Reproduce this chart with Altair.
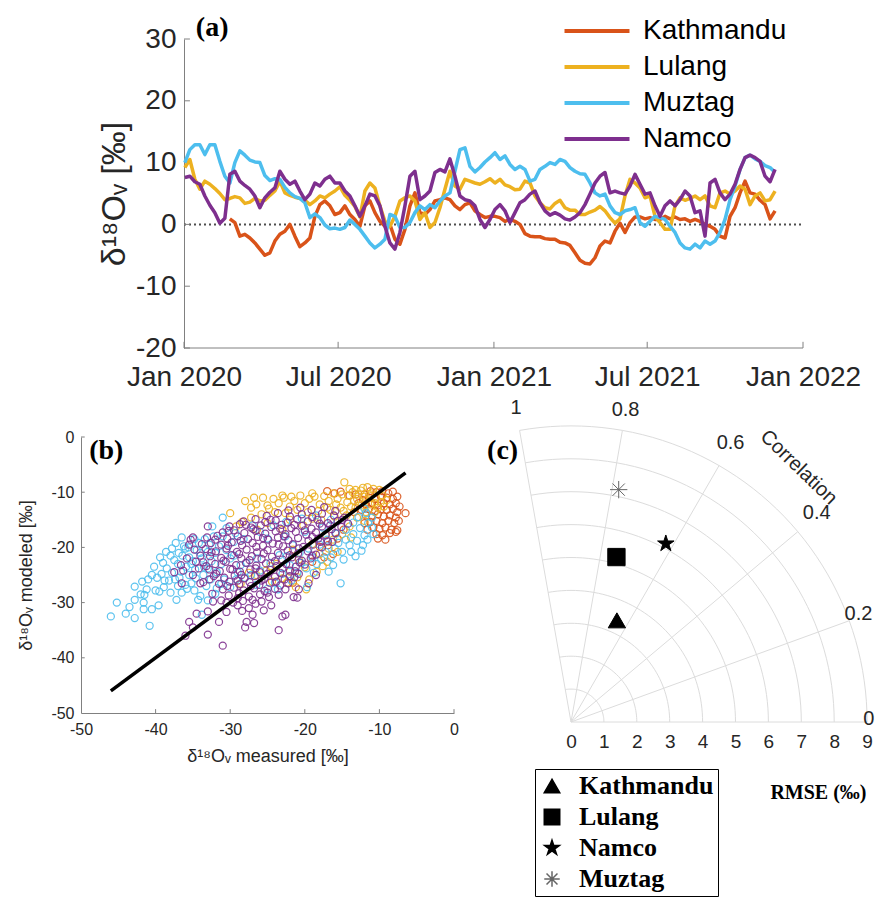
import math
import altair as alt
import pandas as pd

SANS = "Liberation Sans"
SERIF = "Liberation Serif"
TXT = "#262626"
AXC = "#808080"

SITES = ["Kathmandu", "Lulang", "Muztag", "Namco"]
COLORS = ["#D95319", "#EDB120", "#4DBEEE", "#7E2F8E"]

# ---------------- panel (a): time series (about every 6 days) ----------------
SERIES_START = "2020-01-02"
SERIES_END = "2021-11-29"
KATHMANDU_A = [None] * 9 + [
    0.9, 0.3, -1.9, -1.6, -2.2, -3.0, -4.0, -5.0, -4.6, -2.7, -1.6, -1.1, 0.0, -1.9, -3.6, -3.0, -2.2, 1.3, 3.2, 3.8, 3.0, 1.6,
    1.9, 3.0, 1.6, 0.8, -0.3, 3.0, 3.8, 1.9, 0.5, -0.3, 0.0, -2.4, -3.2, -0.8, 3.0, 5.1, 1.9, 1.6, 2.4, 3.8, 4.0, 4.3, 4.0, 3.0, 2.4, 3.2, 3.5, 2.2, 1.6, 1.1, 1.3,
    1.3, 1.1, 0.5, 0.8, 0.5, 0.0, -1.5, -1.9, -2.0, -2.0, -2.3, -2.4, -2.4, -2.9, -3.0, -3.4, -4.6, -5.8, -6.3, -6.4, -5.4, -3.5, -2.7, -3.0, -1.1, 0.2, -1.3, 0.3, 1.2, 1.2, 0.9,
    1.1, 0.8, 0.8, 1.3, 0.9, 1.2, 0.8, 0.9, 0.5, 0.8, 0.5, 0.0, -0.3, -0.8, -1.9, -2.2, 1.3, 2.7, 5.1, 7.0, 5.1, 4.9, 3.9, 3.2, 0.9, 2.2]
LULANG_A = [
    9.2, 10.5, 7.3, 5.7, 7.0, 6.5, 5.8, 5.0, 4.0, 4.2, 4.5, 4.3, 3.4, 3.6, 4.2, 3.8, 3.9, 4.7, 5.4, 7.0, 5.1, 4.7, 4.4, 4.2, 3.9, 3.2, 3.8, 4.6, 4.3, 4.9, 5.4,
    6.1, 4.7, 3.9, 2.9, 1.2, 5.4, 6.7, 5.9, 3.0, 0.5, -0.3, 1.3, 3.8, 4.3, 4.6, 3.8, 0.8, 1.9, -0.5, 0.3, 2.7, 5.7, 8.6, 6.2, 5.7, 7.3, 7.0, 6.7, 6.5, 6.9, 7.4,
    6.7, 7.3, 6.4, 6.1, 5.6, 5.7, 7.0, 6.7, 4.6, 3.5, 2.7, 2.5, 3.4, 3.9, 2.7, 2.3, 2.3, 1.6, 1.6, 2.0, 2.3, 2.9, 2.2, 1.1, 0.2, 0.9, 4.6, 7.3, 6.7, 5.9, 4.3,
    4.6, 1.3, 0.3, -0.8, -0.8, 3.0, 4.3, 3.9, 4.2, 4.6, 4.0, 4.6, 3.0, 2.7, 5.1, 5.4, 4.9, 5.4, 6.2, 5.7, 3.2, 4.6, 5.1, 3.8, 4.0, 5.4]
MUZTAG_A = [
    10.0, 12.1, 12.9, 12.9, 11.3, 12.9, 12.9, 10.2, 7.8, 6.7, 10.0, 11.9, 11.2, 10.4, 10.1, 10.0, 7.9, 7.1, 7.4, 7.3, 6.0, 5.1, 4.5, 4.2, 3.5, 1.1, 1.7, 1.1, -0.1, -0.7, -0.6,
    -0.8, -0.5, 0.7, 0.0, -0.8, -1.9, -3.0, -3.8, -3.2, -2.4, 1.6, 1.3, -0.5, -0.5, 0.3, 1.9, 3.0, 2.4, 3.2, 2.7, 3.8, 4.6, 5.1, 8.6, 12.1, 12.4, 9.4, 8.5, 9.2, 10.1, 10.8,
    11.6, 10.5, 11.1, 9.7, 8.9, 9.4, 8.9, 7.0, 7.3, 8.9, 9.4, 10.0, 9.7, 10.5, 10.2, 9.2, 8.6, 8.2, 8.1, 6.7, 5.1, 4.6, 4.9, 3.0, 1.9, 1.6, 2.2, 2.4, 2.7, 0.3, -0.3,
    0.5, 1.3, 1.1, 0.8, -0.3, -1.3, -3.0, -3.8, -4.0, -3.2, -3.8, -2.7, -3.2, -2.7, -1.3, 0.8, 4.0, 6.2, 8.9, 10.8, 11.2, 10.6, 10.2, 9.5, 9.2, 8.4]
NAMCO_A = [
    7.6, 7.8, 6.9, 6.5, 4.6, 3.1, 1.9, 0.2, 1.0, 8.1, 8.6, 7.0, 6.3, 5.7, 4.6, 2.7, 4.3, 5.2, 5.9, 8.6, 7.3, 6.5, 7.0, 5.4, 4.0, 4.9, 6.7, 6.2, 7.3, 7.8, 6.7,
    6.7, 5.4, 4.6, 3.0, 1.3, 3.0, 4.9, 4.6, 3.0, -0.3, -3.0, -4.0, -1.3, 3.0, 7.8, 8.6, 4.0, 4.6, 5.4, 8.4, 8.9, 8.5, 10.6, 7.8, 4.6, 4.0, 3.8, 3.0, 0.8, -0.5, 0.8,
    2.4, 3.2, 2.2, 0.3, 1.9, 3.5, 4.0, 4.9, 5.4, 3.5, 2.2, 1.5, 1.9, 1.5, 0.9, 0.7, 1.2, 1.9, 3.2, 4.9, 6.7, 7.8, 8.4, 5.1, 5.4, 5.1, 4.9, 6.2, 8.1, 6.5, 4.9,
    5.1, 3.0, 1.3, 3.0, 3.8, 3.0, 4.0, 5.4, 4.6, 1.9, 2.2, -1.9, 6.7, 7.3, 5.1, 4.0, 4.9, 6.5, 8.9, 10.8, 11.2, 10.8, 10.2, 7.8, 6.9, 8.9]
A_TICKS = ["2020-01-01", "2020-07-01", "2021-01-01", "2021-07-01", "2022-01-01"]
A_YTICKS = [-20, -10, 0, 10, 20, 30]

# ---------------- panel (b): modeled vs measured ----------------
KATHMANDU_B = [
    (-12.0, -10.4), (-11.2, -9.8), (-10.4, -10.0), (-9.6, -9.8), (-8.8, -10.2), (-8.2, -9.9),
    (-12.2, -11.4), (-11.4, -11.0), (-10.6, -11.2), (-9.8, -10.8), (-9.0, -11.0), (-8.2, -11.2), (-7.6, -10.8),
    (-11.8, -12.2), (-11.0, -12.0), (-10.2, -12.4), (-9.4, -12.0), (-8.6, -12.2), (-7.8, -12.0), (-7.3, -12.6),
    (-12.4, -13.2), (-11.4, -13.0), (-10.6, -13.4), (-9.8, -13.1), (-9.0, -13.2), (-8.2, -13.0), (-7.6, -13.6),
    (-11.8, -14.2), (-11.0, -14.4), (-10.2, -14.0), (-9.4, -14.4), (-8.6, -14.2), (-7.8, -14.6), (-6.5, -13.8),
    (-11.2, -15.4), (-10.4, -15.2), (-9.6, -15.6), (-8.8, -15.2), (-8.0, -15.6), (-7.4, -15.2),
    (-10.8, -16.4), (-10.0, -16.6), (-9.2, -16.4), (-8.4, -16.8), (-7.6, -16.9),
    (-10.4, -17.6), (-9.6, -17.8), (-8.6, -17.4), (-7.8, -17.2), (-10.2, -18.4), (-9.2, -18.6),
    (-11.6, -16.8), (-12.0, -15.6),
    (-17.0, -9.8), (-16.0, -10.2), (-15.2, -9.9), (-14.0, -10.6), (-13.2, -10.4), (-12.8, -12.0), (-13.4, -13.6),
    (-18.0, -19.9), (-16.9, -19.6), (-16.2, -21.2), (-17.4, -21.8), (-21.6, -26.4), (-19.0, -22.6), (-14.8, -16.8), (-15.6, -18.4)]
LULANG_B = [
    (-28.0, -11.6), (-27.2, -12.8), (-26.5, -12.2), (-25.6, -11.0), (-25.0, -12.4), (-24.2, -11.2), (-23.5, -12.0),
    (-22.8, -11.0), (-22.0, -12.6), (-21.4, -11.6), (-20.6, -10.6), (-20.0, -12.0), (-19.4, -11.2), (-18.7, -10.8),
    (-18.0, -12.2), (-17.4, -10.7), (-16.8, -11.6), (-16.2, -10.2), (-15.6, -11.2), (-15.0, -10.4), (-14.7, -8.2),
    (-14.3, -11.8), (-13.6, -10.0), (-13.0, -11.2), (-12.5, -9.7), (-12.0, -10.8), (-11.6, -9.1), (-11.0, -10.2),
    (-10.5, -11.0), (-10.0, -9.6), (-9.6, -10.6), (-9.0, -11.4), (-13.8, -12.6), (-15.2, -12.8), (-16.6, -13.2),
    (-18.2, -13.4), (-19.6, -13.6), (-21.0, -13.2), (-22.6, -13.8), (-24.0, -13.6), (-25.8, -14.0), (-27.2, -14.6),
    (-28.4, -15.4), (-30.0, -13.8), (-29.2, -16.2), (-12.4, -12.4), (-11.2, -12.2), (-10.2, -12.8), (-14.4, -14.2),
    (-17.8, -15.0), (-14.2, -10.6), (-13.4, -11.6), (-12.8, -10.4), (-11.8, -11.4), (-11.4, -10.6), (-10.8, -9.4),
    (-12.2, -9.2), (-13.2, -9.6), (-14.0, -9.4), (-10.6, -12.0), (-9.8, -11.8),
    (-26.8, -11.0), (-24.8, -13.0), (-23.0, -10.6), (-21.8, -10.8), (-19.0, -10.2), (-17.0, -12.8), (-15.8, -12.2),
    (-14.8, -13.4), (-13.2, -12.8), (-11.8, -13.6), (-10.6, -13.6), (-9.4, -12.6), (-16.0, -14.4), (-19.0, -14.8),
    (-22.0, -15.0), (-25.0, -15.6), (-23.0, -16.8), (-20.2, -16.0), (-26.4, -16.8),
    (-26.5, -25.0), (-25.2, -24.2), (-24.4, -26.2), (-23.0, -25.6), (-22.0, -24.4), (-21.0, -25.4), (-20.0, -23.6),
    (-19.4, -25.8), (-18.4, -24.4), (-17.6, -23.4), (-20.8, -22.2), (-23.8, -23.0), (-27.5, -24.6), (-28.6, -26.6),
    (-18.0, -21.2), (-16.8, -20.2), (-16.2, -18.6), (-15.0, -17.6), (-14.0, -16.2), (-17.2, -17.6), (-19.0, -19.4),
    (-21.6, -20.4), (-13.0, -14.6), (-12.0, -15.2), (-19.8, -27.6), (-21.2, -27.2),
    (-24.6, -23.4), (-22.4, -26.4), (-17.0, -22.6), (-15.6, -20.8), (-13.8, -18.2)]
MUZTAG_B = [
    (-46.0, -32.5), (-45.2, -30.0), (-44.0, -32.0), (-43.5, -30.8), (-42.8, -29.5), (-42.8, -27.1), (-42.8, -32.8),
    (-42.0, -28.5), (-41.6, -30.0), (-41.6, -31.2), (-41.8, -26.2), (-41.5, -28.6), (-41.2, -27.6), (-41.0, -25.8),
    (-40.8, -34.2), (-40.5, -31.2), (-40.5, -25.0), (-40.2, -23.5), (-40.0, -27.8), (-39.8, -25.5), (-39.6, -30.5),
    (-39.5, -28.0), (-39.2, -24.8), (-39.0, -22.8), (-38.9, -27.2), (-38.8, -26.0), (-38.5, -23.8), (-38.2, -26.0),
    (-38.0, -21.5), (-38.0, -28.2), (-37.8, -24.6), (-37.5, -22.3), (-37.3, -19.2), (-37.2, -29.5), (-37.0, -23.0),
    (-37.0, -27.0), (-36.8, -25.5), (-36.5, -18.2), (-36.5, -28.2), (-36.4, -21.5), (-36.2, -19.8), (-36.0, -20.2),
    (-36.0, -26.8), (-35.9, -23.5), (-35.8, -27.5), (-35.5, -25.0), (-35.5, -21.8), (-35.2, -26.5), (-35.0, -22.5),
    (-34.8, -18.5), (-34.8, -27.8), (-34.7, -24.0), (-34.5, -20.5), (-34.3, -29.5), (-34.2, -19.2), (-34.0, -21.0),
    (-33.8, -22.0), (-33.8, -32.2), (-33.6, -25.0), (-33.5, -23.5), (-33.4, -18.5), (-33.0, -20.8), (-33.0, -23.8),
    (-33.0, -29.6), (-32.8, -19.5), (-32.5, -22.5), (-32.4, -16.2), (-32.2, -18.0), (-32.0, -21.0), (-31.8, -24.5),
    (-31.8, -27.4), (-31.5, -19.8), (-31.2, -23.0), (-31.0, -18.0), (-31.0, -14.6), (-30.8, -25.8), (-30.5, -20.5),
    (-30.5, -16.5), (-30.0, -22.0), (-29.5, -19.0), (-29.5, -21.5), (-29.3, -17.4), (-29.0, -24.5), (-28.2, -18.5),
    (-28.0, -25.5), (-27.8, -22.8), (-27.0, -16.0), (-26.5, -26.8), (-26.0, -24.2), (-26.0, -17.2), (-25.0, -27.5),
    (-25.0, -18.4), (-24.2, -16.0), (-24.0, -26.4), (-23.6, -27.6), (-23.0, -24.8), (-22.6, -18.0), (-22.5, -15.4),
    (-22.4, -21.6), (-22.0, -23.2), (-21.8, -26.0), (-21.0, -24.6), (-20.7, -21.0), (-20.5, -22.8), (-20.4, -14.8),
    (-20.0, -17.2), (-19.8, -23.8), (-19.7, -27.2), (-19.5, -20.2), (-19.0, -21.8), (-18.8, -24.6), (-18.5, -14.2),
    (-18.4, -23.0), (-18.0, -19.5), (-17.8, -22.2), (-17.6, -16.4), (-17.2, -20.8), (-17.0, -18.6), (-16.5, -21.8),
    (-16.5, -15.0), (-16.2, -23.2), (-16.0, -20.2), (-15.8, -17.5), (-15.5, -19.2), (-15.2, -26.5), (-15.0, -20.8),
    (-14.5, -18.6), (-14.5, -16.8), (-14.0, -19.6), (-13.8, -20.8), (-13.5, -17.6), (-13.5, -15.5), (-13.0, -18.8),
    (-12.8, -14.5), (-12.6, -16.5), (-12.2, -19.6), (-12.0, -17.8), (-11.8, -13.8), (-11.5, -15.6), (-11.0, -16.4),
    (-39.4, -21.8), (-38.6, -20.8), (-37.8, -20.2), (-37.4, -25.8), (-36.9, -21.0), (-36.6, -24.4), (-35.6, -20.0),
    (-35.2, -23.0), (-34.6, -25.6), (-34.0, -28.8), (-33.2, -27.0), (-32.6, -25.8), (-32.0, -28.4), (-31.2, -26.6),
    (-30.0, -27.2), (-29.2, -25.8), (-28.6, -23.2), (-27.2, -25.0), (-26.4, -22.0), (-24.6, -22.8), (-23.4, -21.4),
    (-21.6, -19.6), (-14.8, -22.2), (-13.2, -21.6), (-12.4, -20.6), (-11.6, -18.6), (-11.0, -14.6), (-10.8, -17.6),
    (-12.0, -13.0), (-16.8, -24.4)]
NAMCO_B = [
    (-22.2, -13.3), (-20.6, -12.8), (-19.1, -13.2), (-17.4, -12.7), (-15.9, -13.4),
    (-25.1, -14.3), (-23.6, -13.8), (-22.0, -14.4), (-20.4, -14.0), (-19.0, -14.5), (-17.7, -13.9), (-16.1, -14.2), (-14.7, -14.6),
    (-28.2, -15.3), (-26.6, -14.9), (-25.3, -15.4), (-23.9, -15.1), (-22.3, -15.5), (-21.0, -14.9), (-19.6, -15.3),
    (-18.3, -15.0), (-16.9, -15.6), (-15.6, -15.2), (-14.2, -15.7),
    (-30.1, -16.2), (-28.7, -15.8), (-27.2, -16.4), (-25.9, -16.0), (-24.5, -16.3), (-23.1, -15.9), (-21.8, -16.5),
    (-20.4, -16.1), (-19.1, -16.6), (-17.7, -16.2), (-16.4, -16.7), (-15.1, -16.3),
    (-31.0, -17.3), (-29.5, -16.9), (-28.1, -17.4), (-26.6, -17.0), (-25.3, -17.5), (-23.9, -17.1), (-22.6, -17.6),
    (-21.2, -17.2), (-19.8, -17.7), (-18.5, -17.3), (-17.2, -17.8), (-15.9, -17.4),
    (-33.1, -18.2), (-31.7, -17.9), (-30.4, -18.4), (-29.0, -18.0), (-27.6, -18.5), (-26.3, -18.1), (-24.9, -18.6),
    (-23.6, -18.2), (-22.2, -18.7), (-20.9, -18.3), (-19.5, -18.8), (-18.2, -18.4), (-16.9, -18.9),
    (-35.3, -18.6), (-32.6, -19.2), (-31.2, -19.5), (-29.8, -19.1), (-28.4, -19.6), (-27.0, -19.2), (-25.6, -19.7),
    (-24.3, -19.3), (-22.9, -19.8), (-21.6, -19.4), (-20.2, -19.9), (-18.9, -19.5), (-17.7, -20.0),
    (-33.3, -20.3), (-31.9, -20.7), (-30.5, -20.2), (-29.1, -20.8), (-27.8, -20.4), (-26.4, -20.9), (-25.0, -20.5),
    (-23.6, -21.0), (-22.3, -20.6), (-20.9, -21.1), (-19.6, -20.7), (-18.5, -21.3),
    (-32.7, -21.6), (-31.2, -21.9), (-29.8, -21.4), (-28.5, -22.0), (-27.1, -21.6), (-25.8, -22.1), (-24.4, -21.7),
    (-23.0, -22.2), (-21.7, -21.8), (-20.4, -22.4), (-19.2, -22.0),
    (-33.6, -22.7), (-32.0, -23.0), (-30.6, -22.6), (-29.2, -23.2), (-27.9, -22.8), (-26.5, -23.3), (-25.2, -22.9),
    (-23.8, -23.4), (-22.5, -23.0), (-21.2, -23.5), (-20.0, -23.1),
    (-32.8, -24.0), (-31.4, -24.3), (-30.0, -23.9), (-28.7, -24.4), (-27.3, -24.0), (-26.0, -24.5), (-24.6, -24.1),
    (-23.3, -24.6), (-22.0, -24.2), (-20.8, -24.8),
    (-32.2, -25.2), (-30.8, -25.5), (-29.4, -25.1), (-28.1, -25.6), (-26.7, -25.2), (-25.4, -25.7), (-24.0, -25.3),
    (-22.7, -25.8), (-21.4, -25.4),
    (-33.6, -26.3), (-31.5, -26.6), (-30.1, -26.2), (-28.8, -26.7), (-27.4, -26.3), (-26.1, -26.8), (-24.7, -26.4),
    (-23.3, -26.9), (-22.2, -26.5),
    (-31.0, -27.6), (-29.5, -27.3), (-28.2, -27.8), (-26.8, -27.4), (-25.4, -27.9), (-24.0, -27.5),
    (-32.4, -28.4), (-30.2, -28.7), (-28.8, -28.3), (-27.5, -28.9), (-26.0, -28.5), (-24.8, -29.0),
    (-31.2, -29.6), (-29.6, -30.0), (-28.3, -29.7), (-26.6, -30.2),
    (-27.9, -15.9), (-24.6, -15.0), (-21.4, -15.9), (-18.0, -15.7), (-15.0, -15.0),
    (-30.2, -17.0), (-26.9, -16.7), (-23.3, -16.6), (-20.0, -16.9), (-16.6, -16.0),
    (-32.0, -18.6), (-28.6, -18.8), (-25.6, -18.3), (-22.8, -18.0), (-19.0, -18.1), (-16.3, -19.0),
    (-33.8, -19.4), (-30.3, -19.7), (-26.5, -19.9), (-23.5, -19.5), (-20.8, -20.2), (-17.9, -19.0),
    (-32.5, -20.9), (-28.8, -21.2), (-25.5, -21.1), (-22.0, -21.4), (-19.0, -21.5),
    (-34.0, -21.5), (-30.9, -22.4), (-27.4, -22.3), (-24.0, -22.5), (-20.7, -22.7),
    (-33.2, -23.4), (-29.7, -24.0), (-26.6, -23.8), (-23.0, -23.8), (-21.3, -24.3),
    (-31.9, -24.8), (-28.5, -25.0), (-25.0, -24.8), (-22.0, -25.2),
    (-32.8, -25.8), (-29.0, -26.0), (-25.8, -26.0), (-23.8, -26.2),
    (-30.4, -27.0), (-27.2, -27.0), (-25.0, -28.2), (-29.0, -29.2), (-27.0, -29.5), (-30.5, -30.0), (-25.8, -29.8),
    (-23.5, -28.6), (-22.6, -27.6), (-34.6, -22.6), (-35.8, -22.0), (-36.6, -23.2), (-34.8, -20.4),
    (-36.0, -36.0), (-35.5, -33.5), (-35.0, -34.5), (-34.5, -32.0), (-33.0, -35.8), (-33.0, -31.6), (-32.3, -29.8),
    (-31.0, -37.8), (-31.5, -33.5), (-30.5, -31.7), (-28.0, -34.5), (-27.8, -33.5), (-27.5, -31.0), (-27.0, -32.2),
    (-26.8, -33.7), (-25.5, -31.4), (-24.5, -30.5), (-23.5, -35.0), (-23.0, -32.5), (-22.6, -32.2), (-21.5, -29.0),
    (-21.0, -29.1), (-20.8, -27.6), (-19.5, -26.5), (-18.5, -25.0), (-28.4, -31.5), (-29.0, -30.5), (-34.0, -26.5),
    (-35.0, -25.0), (-36.3, -24.2), (-37.5, -24.5), (-35.0, -18.2), (-33.0, -16.2), (-35.5, -19.5), (-34.2, -23.8),
    (-36.5, -26.5)]
ONE_TO_ONE = [-46.0, -6.5]
B_TICKS = [-50, -40, -30, -20, -10, 0]

# ---------------- panel (c): correlation / RMSE polar diagram ----------------
TAYLOR_SITES = ["Kathmandu", "Lulang", "Namco", "Muztag"]
TAYLOR_CORR = [0.657, 0.746, 0.62, 0.784]
TAYLOR_RMSE = [3.39, 5.20, 6.14, 7.21]
RMSE_RINGS = [1, 2, 3, 4, 5, 6, 7, 8, 9]
CORR_TICKS = [0.0, 0.2, 0.4, 0.6, 0.8, 1.0]
CORR_LABELS = ["0", "0.2", "0.4", "0.6", "0.8", "1"]
CORR_LABEL_R = [9.05, 9.3, 9.75, 9.7, 9.55, 9.6]
RMSE_TICKS = [0, 1, 2, 3, 4, 5, 6, 7, 8, 9]
DEG_PER_CORR = 100.0

# panel letters, anchored in each panel's data units
LABEL_A = ("2020-01-15", 31.7)
LABEL_B = (-48.9, -2.6)
LABEL_C = (-2.55, 8.25)

# ---------------- layout constants (pixels) ----------------
A_W, A_H = 722, 309
A_EXT = 103            # plot area left of Jan 2020
B_W, B_H = 373, 276
C_W, C_H = 384, 285
C_ORIGIN = 86          # px from left of panel (c) to RMSE = 0
C_K = 32.9             # px per RMSE unit
HYPHEN = "'' + datum.value"


def utc(ts):
    return pd.Timestamp(ts).strftime("%Y-%m-%dT%H:%M:%SZ")


def dtime(ts):
    ts = pd.Timestamp(ts)
    return alt.DateTime(year=ts.year, month=ts.month, date=ts.day,
                        hours=ts.hour, minutes=ts.minute, utc=True)


# ---------- panel (a) ----------
a_dates = pd.date_range(SERIES_START, SERIES_END, periods=len(LULANG_A))
rows = []
for site, vals in zip(SITES, [KATHMANDU_A, LULANG_A, MUZTAG_A, NAMCO_A]):
    for d, v in zip(a_dates, vals):
        if v is not None:
            rows.append({"date": utc(d), "value": v, "site": site})
a_df = pd.DataFrame(rows)

t0 = pd.Timestamp(A_TICKS[0])
t1 = pd.Timestamp(A_TICKS[-1])
span_days = (t1 - t0).days
dom_start = t0 - pd.Timedelta(days=span_days * A_EXT / (A_W - A_EXT))

xa = alt.X("date:T",
           scale=alt.Scale(type="utc", domain=[dtime(dom_start), dtime(t1)], nice=False),
           axis=alt.Axis(values=[dtime(t) for t in A_TICKS], format="%b %Y", formatType="time",
                         domain=False, ticks=False, grid=False, labelFontSize=28,
                         labelPadding=15, labelFlush=False, labelOverlap=False, title=None))
ya = alt.Y("value:Q",
           scale=alt.Scale(domain=[A_YTICKS[0], A_YTICKS[-1]], nice=False, zero=False),
           axis=alt.Axis(values=A_YTICKS, offset=-A_EXT, ticks=False, grid=False,
                         labelFontSize=28, labelPadding=8, labelExpr=HYPHEN, title="δ¹⁸Oᵥ [‰]",
                         titleFontSize=34, titlePadding=4, domainColor=AXC))

frame_df = pd.DataFrame({"date": [utc(t0), utc(t0)], "date2": [utc(t1), utc(t1)],
                         "value": [A_YTICKS[0], 0], "kind": ["axis", "zero"]})
axis_line = alt.Chart(frame_df).transform_filter("datum.kind == 'axis'").mark_rule(
    color=AXC, strokeWidth=1).encode(x=xa, x2="date2:T", y=ya)
zero_line = alt.Chart(frame_df).transform_filter("datum.kind == 'zero'").mark_rule(
    color="#4d4d4d", strokeWidth=2, strokeDash=[2, 3]).encode(x=xa, x2="date2:T", y=ya)
xt_df = pd.DataFrame({"date": [utc(t) for t in A_TICKS], "value": [A_YTICKS[0]] * len(A_TICKS),
                      "value2": [A_YTICKS[0] + 1] * len(A_TICKS)})
xticks_a = alt.Chart(xt_df).mark_rule(color=AXC).encode(x=xa, y=ya, y2="value2:Q")
yt_df = pd.DataFrame({"date": [utc(t0)] * len(A_YTICKS),
                      "date2": [utc(t0 + pd.Timedelta(days=7))] * len(A_YTICKS),
                      "value": A_YTICKS})
yticks_a = alt.Chart(yt_df).mark_rule(color=AXC).encode(x=xa, x2="date2:T", y=ya)

lines = alt.Chart(a_df).mark_line(strokeWidth=3.5, strokeJoin="round").encode(
    x=xa, y=ya,
    color=alt.Color("site:N", scale=alt.Scale(domain=SITES, range=COLORS),
                    legend=alt.Legend(orient="none", legendX=502, legendY=-22, title=None,
                                      symbolType="M-3,0L3,0", symbolStrokeWidth=4, symbolSize=469,
                                      labelFontSize=28, labelFont=SANS, labelColor="black",
                                      labelOffset=32, rowPadding=8, padding=0, labelLimit=400)))

a_lab = alt.Chart(pd.DataFrame({"date": [utc(LABEL_A[0])], "value": [LABEL_A[1]], "t": ["(a)"]})).mark_text(
    font=SERIF, fontWeight="bold", fontSize=28, color="black", align="left", baseline="middle").encode(
    x=xa, y=ya, text="t:N")

panel_a = alt.layer(axis_line, zero_line, xticks_a, yticks_a, lines, a_lab).properties(
    width=A_W, height=A_H)

# ---------- panel (b) ----------
b_rows = []
for site, pts in zip(SITES, [KATHMANDU_B, LULANG_B, MUZTAG_B, NAMCO_B]):
    for mx, my in pts:
        b_rows.append({"mx": mx, "my": my, "site": site})
b_df = pd.DataFrame(b_rows)

xb = alt.X("mx:Q", scale=alt.Scale(domain=[B_TICKS[0], B_TICKS[-1]], nice=False, zero=False),
           axis=alt.Axis(values=B_TICKS, title="δ¹⁸Oᵥ measured [‰]", labelFontSize=16,
                         titleFontSize=18, ticks=False, labelPadding=8, titlePadding=10,
                         labelExpr=HYPHEN, labelFlush=False, grid=False, domainColor=AXC))
yb = alt.Y("my:Q", scale=alt.Scale(domain=[B_TICKS[0], B_TICKS[-1]], nice=False, zero=False),
           axis=alt.Axis(values=B_TICKS, title="δ¹⁸Oᵥ modeled [‰]", labelFontSize=16,
                         titleFontSize=18, ticks=False, labelPadding=7, titlePadding=15,
                         labelExpr=HYPHEN, grid=False, domainColor=AXC))

scatter = alt.Chart(b_df).mark_point(filled=False, size=50, strokeWidth=1.2, opacity=0.9).encode(
    x=xb, y=yb,
    color=alt.Color("site:N", scale=alt.Scale(domain=SITES, range=COLORS), legend=None))
one_df = pd.DataFrame({"mx": ONE_TO_ONE, "my": ONE_TO_ONE})
one_line = alt.Chart(one_df).mark_line(color="black", strokeWidth=3.5).encode(x=xb, y=yb)
bt_x = pd.DataFrame({"mx": B_TICKS[1:], "my": [B_TICKS[0]] * 5, "my2": [B_TICKS[0] + 0.7] * 5})
bt_y = pd.DataFrame({"my": B_TICKS[1:], "mx": [B_TICKS[0]] * 5, "mx2": [B_TICKS[0] + 0.5] * 5})
ticks_bx = alt.Chart(bt_x).mark_rule(color=AXC).encode(x=xb, y=yb, y2="my2:Q")
ticks_by = alt.Chart(bt_y).mark_rule(color=AXC).encode(x=xb, x2="mx2:Q", y=yb)
b_lab = alt.Chart(pd.DataFrame({"mx": [LABEL_B[0]], "my": [LABEL_B[1]], "t": ["(b)"]})).mark_text(
    font=SERIF, fontWeight="bold", fontSize=28, color="black", align="left", baseline="middle").encode(
    x=xb, y=yb, text="t:N")

panel_b = alt.layer(ticks_bx, ticks_by, scatter, one_line, b_lab).properties(width=B_W, height=B_H)

# ---------- panel (c) ----------
def polar(r, corr):
    ang = math.radians(corr * DEG_PER_CORR)
    return r * math.cos(ang), r * math.sin(ang)


c_xdom = [-C_ORIGIN / C_K, (C_W - C_ORIGIN) / C_K]
c_ydom = [0, C_H / C_K]
xc = alt.X("cx:Q", scale=alt.Scale(domain=c_xdom, nice=False, zero=False),
           axis=alt.Axis(values=RMSE_TICKS, domain=False, ticks=False, grid=False,
                         labelFontSize=19, labelPadding=10, labelFlush=False,
                         title="RMSE (‰)", titleFont=SERIF, titleFontWeight="bold",
                         titleFontSize=20, titleColor="black", titleAlign="right",
                         titleX=381, titleY=70, titleBaseline="middle"))
yc = alt.Y("cy:Q", scale=alt.Scale(domain=c_ydom, nice=False, zero=False), axis=None)

arc_rows = []
for r in RMSE_RINGS:
    for step in range(0, 51):
        c = step / 50.0
        x, y = polar(r, c)
        arc_rows.append({"ring": r, "k": step, "cx": x, "cy": y})
arcs = alt.Chart(pd.DataFrame(arc_rows)).mark_line(color="#dcdcdc", strokeWidth=1).encode(
    x=xc, y=yc, detail="ring:N", order="k:Q")

spoke_rows = []
for c in CORR_TICKS:
    x, y = polar(RMSE_RINGS[-1], c)
    spoke_rows.append({"cx": 0.0, "cy": 0.0, "cx2": x, "cy2": y})
spokes = alt.Chart(pd.DataFrame(spoke_rows)).mark_rule(color="#dcdcdc", strokeWidth=1).encode(
    x=xc, y=yc, x2="cx2:Q", y2="cy2:Q")

lab_rows = []
for c, lab, r in zip(CORR_TICKS, CORR_LABELS, CORR_LABEL_R):
    x, y = polar(r, c)
    lab_rows.append({"cx": x, "cy": y, "lab": lab})
corr_labels = alt.Chart(pd.DataFrame(lab_rows)).mark_text(
    fontSize=20, font=SANS, color=TXT, align="center", baseline="middle", dy=-3).encode(
    x=xc, y=yc, text="lab:N")

cx_t, cy_t = polar(10.38, 0.482)
corr_title = alt.Chart(pd.DataFrame({"cx": [cx_t], "cy": [cy_t], "lab": ["Correlation"]})).mark_text(
    fontSize=20, font=SANS, color=TXT, align="center", baseline="middle", angle=44).encode(
    x=xc, y=yc, text="lab:N")

c_lab = alt.Chart(pd.DataFrame({"cx": [LABEL_C[0]], "cy": [LABEL_C[1]], "lab": ["(c)"]})).mark_text(
    font=SERIF, fontWeight="bold", fontSize=28, color="black", align="left", baseline="middle").encode(
    x=xc, y=yc, text="lab:N")

m_rows = []
for site, c, r in zip(TAYLOR_SITES, TAYLOR_CORR, TAYLOR_RMSE):
    x, y = polar(r, c)
    m_rows.append({"cx": x, "cy": y, "tsite": site})
STAR = ("M0,-1L0.2245,-0.309L0.951,-0.309L0.363,0.118L0.588,0.809L0,0.382L-0.588,0.809"
        "L-0.363,0.118L-0.951,-0.309L-0.2245,-0.309Z")
ASTER = ("M-1,0L1,0M0,-1L0,1M-0.7071,-0.7071L0.7071,0.7071M-0.7071,0.7071L0.7071,-0.7071")
SHAPES = ["triangle-up", "square", STAR, ASTER]
markers = alt.Chart(pd.DataFrame(m_rows)).mark_point(filled=True, size=300, strokeWidth=1, opacity=1).encode(
    x=xc, y=yc,
    shape=alt.Shape("tsite:N", scale=alt.Scale(domain=TAYLOR_SITES, range=SHAPES),
                    legend=alt.Legend(orient="none", legendX=50, legendY=332, title=None,
                                      strokeColor="black", fillColor="white", padding=4,
                                      labelFont=SERIF, labelFontWeight="bold", labelFontSize=26,
                                      labelColor="black", symbolSize=240,
                                      symbolFillColor="black", symbolStrokeColor="black",
                                      symbolStrokeWidth=1.5, rowPadding=5, labelOffset=14,
                                      labelLimit=400)),
    fill=alt.Fill("tsite:N", scale=alt.Scale(domain=TAYLOR_SITES, range=["black", "black", "black", "#555555"]),
                  legend=None),
    stroke=alt.Stroke("tsite:N", scale=alt.Scale(domain=TAYLOR_SITES, range=["black", "black", "black", "#666666"]),
                      legend=None))

panel_c = alt.layer(arcs, spokes, corr_labels, corr_title, c_lab, markers).properties(
    width=C_W, height=C_H)

IND = dict(color="independent", shape="independent", fill="independent", stroke="independent")
bottom = alt.hconcat(panel_b, panel_c, spacing=31, bounds="flush").resolve_scale(**IND)
chart = alt.vconcat(panel_a, bottom, spacing=437 - 39 - A_H, bounds="flush").resolve_scale(
    **IND).properties(
    padding={"left": 9, "top": 6, "right": 0, "bottom": 0}
).configure_view(stroke=None).configure_axis(
    labelFont=SANS, titleFont=SANS, labelColor=TXT, titleColor=TXT,
    titleFontWeight="normal", domainColor=AXC)

chart.save("out.html", embed_options={"renderer": "svg", "actions": False})
